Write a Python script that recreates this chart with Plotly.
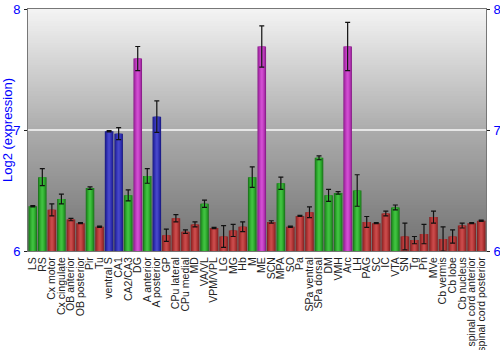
import plotly.graph_objects as go

# Brain regions, mean log2 expression, standard error and colour group
regions = [
    "LS", "RS", "Cx motor", "Cx cingulate", "OB anterior", "OB posterior", "Pir", "Tu",
    "ventral S", "CA1", "CA2/CA3", "DG", "A anterior", "A posterior", "GP", "CPu lateral",
    "CPu medial", "MD", "VA/VL", "VPM/VPL", "LG", "MG", "Hb", "M", "ME", "SCN", "MPA",
    "SO", "Pa", "SPa ventral", "SPa dorsal", "DM", "VMH", "Arc", "LH", "PAG", "SC", "IC",
    "VTA", "SN", "Tg", "Pn", "MVe", "Cb vermis", "Cb lobe", "Cb nucleus",
    "spinal cord anterior", "spinal cord posterior",
]
expression = [
    6.37, 6.61, 6.34, 6.43, 6.26, 6.23, 6.52, 6.20,
    6.99, 6.97, 6.46, 7.59, 6.62, 7.11, 6.13, 6.27,
    6.16, 6.22, 6.39, 6.19, 6.12, 6.17, 6.20, 6.61, 7.69, 6.24, 6.56,
    6.20, 6.29, 6.32, 6.77, 6.46, 6.48, 7.69, 6.50, 6.24, 6.23, 6.31,
    6.36, 6.12, 6.09, 6.14, 6.28, 6.10, 6.12, 6.21,
    6.23, 6.25,
]
std_err = [
    0.005, 0.07, 0.05, 0.04, 0.01, 0.005, 0.01, 0.005,
    0.005, 0.05, 0.045, 0.10, 0.06, 0.13, 0.05, 0.03,
    0.015, 0.02, 0.03, 0.005, 0.09, 0.05, 0.04, 0.085, 0.17, 0.01, 0.05,
    0.005, 0.005, 0.045, 0.016, 0.05, 0.01, 0.20, 0.13, 0.045, 0.005, 0.02,
    0.02, 0.11, 0.03, 0.08, 0.05, 0.10, 0.055, 0.02,
    0.005, 0.005,
]
group = [
    "g", "g", "r", "g", "r", "r", "g", "r",
    "b", "b", "g", "p", "g", "b", "r", "r",
    "r", "r", "g", "r", "r", "r", "r", "g", "p", "r", "g",
    "r", "r", "r", "g", "g", "g", "p", "g", "r", "r", "r",
    "g", "r", "r", "r", "r", "r", "r", "r",
    "r", "r",
]

# Shading layers per group: from outer (dark edge) to inner (highlight)
shades = {
    "g": ["#1d761d", "#279a27", "#33b233", "#40c040"],
    "r": ["#862424", "#a53030", "#bb3d3d", "#c84a4a"],
    "b": ["#1c1c86", "#2a2aa6", "#3838bb", "#4646c8"],
    "p": ["#8a1f8a", "#ac2fac", "#c23ec2", "#d04ed0"],
}
layer_widths = [0.9, 0.7, 0.45, 0.22]

fig = go.Figure()

for k, w in enumerate(layer_widths):
    last = k == len(layer_widths) - 1
    fig.add_trace(go.Bar(
        x=regions,
        y=expression,
        width=w,
        marker=dict(color=[shades[g][k] for g in group], line=dict(width=0)),
        error_y=dict(type="data", array=std_err, color="#111111", thickness=1.2,
                     width=2.5, visible=last),
        hoverinfo="skip" if not last else None,
        showlegend=False,
    ))

# Vertical grey gradient behind the bars
y_lo, y_mid, y_hi = 6.0, 7.0, 8.0
c_hi, c_mid, c_lo = 0xf4, 0xac, 0x72
n_strips = 100
step = (y_hi - y_lo) / n_strips
shapes = []
for i in range(n_strips):
    a = y_lo + step * i
    m = a + step / 2
    if m < y_mid:
        v = c_lo + (c_mid - c_lo) * (m - y_lo) / (y_mid - y_lo)
    else:
        v = c_mid + (c_hi - c_mid) * (m - y_mid) / (y_hi - y_mid)
    v = int(round(v))
    # each strip overlaps the next one slightly to avoid seams
    shapes.append(dict(type="rect", xref="paper", yref="y", x0=0, x1=1,
                       y0=a, y1=min(a + step * 1.6, y_hi),
                       fillcolor=f"rgb({v},{v},{v})", line=dict(width=0), layer="below"))

fig.update_layout(
    width=500, height=350,
    margin=dict(l=28, r=14, t=9, b=99),
    barmode="overlay",
    bargap=0.05,
    paper_bgcolor="white",
    plot_bgcolor="#aaaaaa",
    shapes=shapes,
    font=dict(family="Liberation Sans, Arial, sans-serif"),
    xaxis=dict(
        tickmode="array", tickvals=regions, ticktext=regions,
        tickangle=-90,
        tickfont=dict(size=10.5, color="#222222"),
        showgrid=False,
        ticks="", ticklabelstandoff=1,
        showline=True, linecolor="#777777", mirror=True,
        range=[-0.5, len(regions) - 0.5],
        automargin=False,
    ),
    yaxis=dict(
        range=[6, 8],
        tickvals=[6, 7, 8],
        tickfont=dict(size=13, color="blue"),
        ticks="outside", ticklen=3, tickcolor="#222222", ticklabelstandoff=1,
        showgrid=True, gridcolor="#e6e6e6", gridwidth=2,
        showline=True, linecolor="#777777", mirror=True,
        zeroline=False, automargin=False,
        title=dict(text="Log2 (expression)", font=dict(size=13, color="blue"), standoff=6),
    ),
    yaxis2=dict(
        range=[6, 8],
        tickvals=[6, 7, 8],
        overlaying="y", side="right",
        tickfont=dict(size=13, color="blue"),
        ticks="outside", ticklen=3, tickcolor="#222222", ticklabelstandoff=1,
        showgrid=False, zeroline=False, automargin=False,
    ),
)

# Empty trace so the right-hand axis is rendered
fig.add_trace(go.Scatter(x=[regions[0]], y=[None], yaxis="y2", showlegend=False,
                         hoverinfo="skip"))

fig.write_html("out.html")
